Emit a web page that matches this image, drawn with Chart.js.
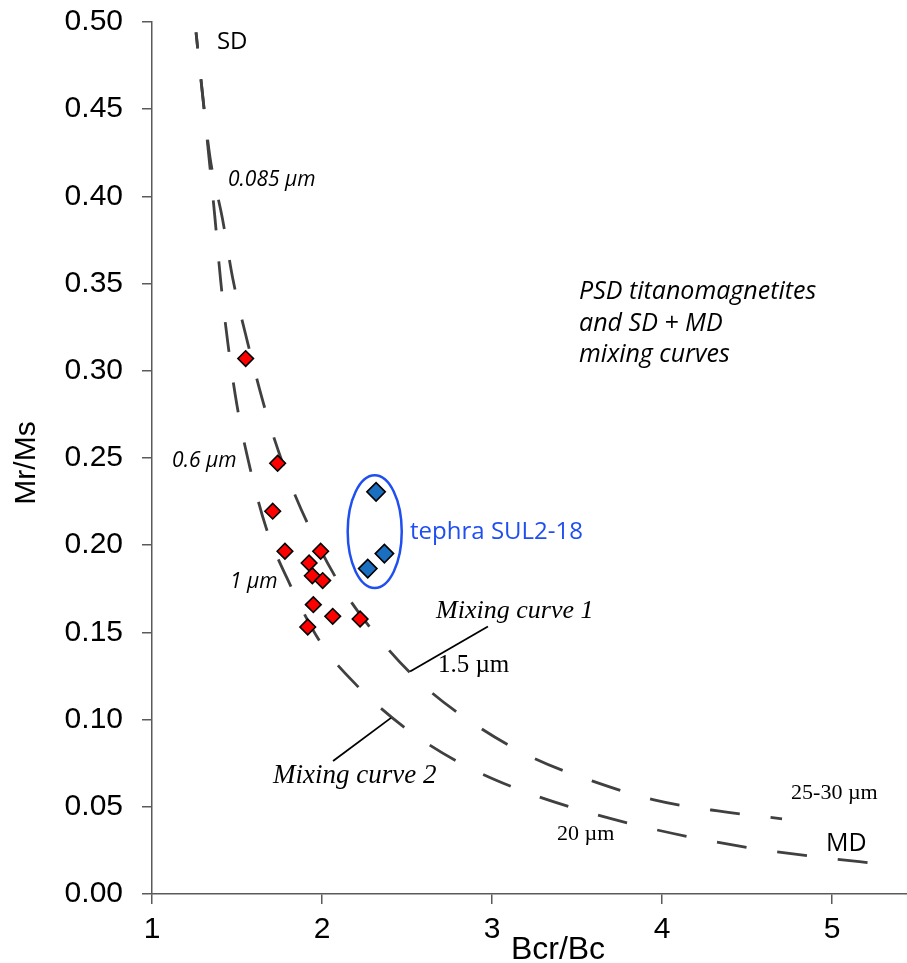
<!DOCTYPE html>
<html>
<head>
<meta charset="utf-8">
<script src="https://cdn.jsdelivr.net/npm/chart.js@4.4.3/dist/chart.umd.min.js"></script>
<style>
  html, body { margin: 0; padding: 0; background: #fff; }
  #wrap { width: 907px; height: 963px; position: relative; }
</style>
</head>
<body>
<div id="wrap"><canvas id="dayPlot"></canvas></div>
<script>
// Day plot: Bcr/Bc vs Mr/Ms

const xTicks = [1, 2, 3, 4, 5];
const yTicks = [0, 0.05, 0.1, 0.15, 0.2, 0.25, 0.3, 0.35, 0.4, 0.45, 0.5];

// SD + MD mixing curve 1 (upper one, ends at 25-30 µm)
const curve1Bcr = [1.259, 1.300, 1.341, 1.415, 1.476, 1.565, 1.671, 1.800, 1.935, 2.124, 2.347, 2.606, 2.912, 3.241, 3.588, 3.953, 4.329, 4.706];
const curve1Mr  = [0.494, 0.456, 0.4225, 0.3869, 0.3525, 0.3152, 0.2761, 0.2388, 0.2084, 0.1745, 0.1452, 0.1188, 0.0964, 0.0781, 0.0649, 0.054, 0.0476, 0.0431];

// SD + MD mixing curve 2 (lower one, runs out to MD)
const curve2Bcr = [1.259, 1.300, 1.335, 1.371, 1.403, 1.447, 1.500, 1.576, 1.671, 1.812, 1.988, 2.218, 2.488, 2.800, 3.135, 3.476, 3.82, 4.194, 4.559, 4.918, 5.282];
const curve2Mr  = [0.494, 0.456, 0.4225, 0.3869, 0.3525, 0.3152, 0.2801, 0.2445, 0.2101, 0.1774, 0.1447, 0.1183, 0.0953, 0.0758, 0.0608, 0.0494, 0.0402, 0.0321, 0.0258, 0.0212, 0.0172];

// samples (red) and tephra SUL2-18 (blue)
const sampleBcr = [1.551, 1.739, 1.710, 1.782, 1.992, 1.924, 1.943, 2.004, 1.949, 2.063, 2.224, 1.916];
const sampleMr  = [0.307, 0.247, 0.2195, 0.1965, 0.1965, 0.1898, 0.1825, 0.1797, 0.1659, 0.1592, 0.1577, 0.1531];
const tephraBcr = [2.318, 2.367, 2.269];
const tephraMr  = [0.2306, 0.1952, 0.1866];

const pts = (xs, ys) => xs.map((v, i) => ({ x: v, y: ys[i] }));

const SANS = '"Open Sans", "Noto Sans", sans-serif';
const SERIF = '"Liberation Serif", "Times New Roman", serif';
const AXIS_FONT = '"Liberation Sans", Arial, sans-serif';
const CURVE_GRAY = '#404040';
const LABEL_BLUE = '#1f4ff0';

// text labels placed in data coordinates (left / baseline)
const labels = [
  { text: 'SD', x: 1.382, y: 0.4845, font: `24px ${SANS}` },
  { text: '0.085 \u00b5m', x: 1.447, y: 0.4059, font: `italic 21px ${SANS}` },
  { text: '0.6 \u00b5m', x: 1.118, y: 0.2451, font: `italic 21px ${SANS}` },
  { text: '1 \u00b5m', x: 1.459, y: 0.1757, font: `italic 21px ${SANS}` },
  { text: 'PSD titanomagnetites', x: 3.512, y: 0.341, font: `italic 25px ${SANS}` },
  { text: 'and SD + MD', x: 3.512, y: 0.3226, font: `italic 25px ${SANS}` },
  { text: 'mixing curves', x: 3.512, y: 0.3048, font: `italic 25px ${SANS}` },
  { text: 'tephra SUL2-18', x: 2.518, y: 0.2038, font: `24px ${SANS}`, color: LABEL_BLUE },
  { text: 'Mixing curve 1', x: 2.671, y: 0.1584, font: `italic 26px ${SERIF}` },
  { text: '1.5 \u00b5m', x: 2.682, y: 0.1274, font: `25px ${SERIF}` },
  { text: 'Mixing curve 2', x: 1.712, y: 0.0637, font: `italic 27px ${SERIF}` },
  { text: '25-30 \u00b5m', x: 4.759, y: 0.0545, font: `22px ${SERIF}` },
  { text: '20 \u00b5m', x: 3.382, y: 0.031, font: `22px ${SERIF}` },
  { text: 'MD', x: 4.965, y: 0.0247, font: `25px ${SANS}` },
];

// leader lines from the curve names to the curves
const leaders = [
  [2.518, 0.1276, 2.976, 0.1534],
  [2.065, 0.0763, 2.406, 0.101],
];

// ellipse round the tephra samples: centre and half-axes in data units
const tephraRing = { x: 2.310, y: 0.2078, rx: 0.159, ry: 0.0323 };

const overlay = {
  id: 'overlay',
  afterDatasetsDraw(chart) {
    const { ctx, scales: { x, y } } = chart;
    ctx.save();

    const cx = x.getPixelForValue(tephraRing.x);
    const cy = y.getPixelForValue(tephraRing.y);
    const rx = x.getPixelForValue(tephraRing.x + tephraRing.rx) - cx;
    const ry = cy - y.getPixelForValue(tephraRing.y + tephraRing.ry);
    ctx.beginPath();
    ctx.ellipse(cx, cy, rx, ry, 0, 0, Math.PI * 2);
    ctx.strokeStyle = LABEL_BLUE;
    ctx.lineWidth = 2.5;
    ctx.stroke();

    ctx.strokeStyle = '#000';
    ctx.lineWidth = 1.8;
    leaders.forEach(([x0, y0, x1, y1]) => {
      ctx.beginPath();
      ctx.moveTo(x.getPixelForValue(x0), y.getPixelForValue(y0));
      ctx.lineTo(x.getPixelForValue(x1), y.getPixelForValue(y1));
      ctx.stroke();
    });

    ctx.textAlign = 'left';
    ctx.textBaseline = 'alphabetic';
    labels.forEach((l) => {
      ctx.font = l.font;
      ctx.fillStyle = l.color || '#000';
      ctx.fillText(l.text, x.getPixelForValue(l.x), y.getPixelForValue(l.y));
    });
    ctx.restore();
  },
  afterDraw(chart) {
    const { ctx } = chart;
    ctx.save();
    ctx.fillStyle = '#000';
    ctx.font = `32px ${AXIS_FONT}`;
    ctx.textAlign = 'center';
    ctx.textBaseline = 'alphabetic';
    ctx.fillText('Bcr/Bc', 558, 959);

    ctx.translate(35, 463);
    ctx.rotate(-Math.PI / 2);
    ctx.font = `30px ${AXIS_FONT}`;
    ctx.fillText('Mr/Ms', 0, 0);
    ctx.restore();
  },
};

const axisStyle = {
  grid: { drawOnChartArea: false, drawTicks: true, tickLength: 10, color: '#5a5a5a', lineWidth: 1.5 },
  border: { color: '#5a5a5a', width: 1.5 },
};

const curveStyle = {
  showLine: true,
  cubicInterpolationMode: 'monotone',
  borderColor: CURVE_GRAY,
  borderWidth: 2.8,
  borderDash: [30, 31],
  borderDashOffset: 14,
  pointRadius: 0,
};

new Chart(document.getElementById('dayPlot'), {
  type: 'scatter',
  data: {
    datasets: [
      {
        label: 'tephra SUL2-18',
        data: pts(tephraBcr, tephraMr),
        pointStyle: 'rectRot',
        pointRadius: 9.2,
        backgroundColor: '#1b6fc0',
        borderColor: '#000',
        borderWidth: 1.6,
      },
      {
        label: 'samples',
        data: pts(sampleBcr, sampleMr),
        pointStyle: 'rectRot',
        pointRadius: 7.8,
        backgroundColor: '#ff0000',
        borderColor: '#000',
        borderWidth: 1.6,
      },
      { label: 'Mixing curve 1', data: pts(curve1Bcr, curve1Mr), ...curveStyle },
      { label: 'Mixing curve 2', data: pts(curve2Bcr, curve2Mr), ...curveStyle },
    ],
  },
  options: {
    responsive: true,
    maintainAspectRatio: false,
    animation: false,
    layout: { autoPadding: false, padding: { top: 22, right: 0, bottom: 0, left: 0 } },
    plugins: { legend: { display: false }, tooltip: { enabled: false } },
    scales: {
      x: {
        type: 'linear',
        min: 1,
        max: 5.441,
        ...axisStyle,
        afterBuildTicks: (s) => { s.ticks = xTicks.map((v) => ({ value: v })); },
        afterFit: (s) => { s.height = 69; s.paddingLeft = 0; s.paddingRight = 0; },
        ticks: {
          color: '#000',
          padding: 8,
          font: { family: AXIS_FONT, size: 30 },
          callback: (v) => String(v),
        },
      },
      y: {
        type: 'linear',
        min: 0,
        max: 0.5,
        ...axisStyle,
        afterBuildTicks: (s) => { s.ticks = yTicks.map((v) => ({ value: v })); },
        afterFit: (s) => { s.width = 152; s.paddingTop = 0; s.paddingBottom = 0; },
        ticks: {
          color: '#000',
          padding: 19,
          font: { family: AXIS_FONT, size: 30 },
          callback: (v) => Number(v).toFixed(2),
        },
      },
    },
  },
  plugins: [overlay],
});
</script>
</body>
</html>
